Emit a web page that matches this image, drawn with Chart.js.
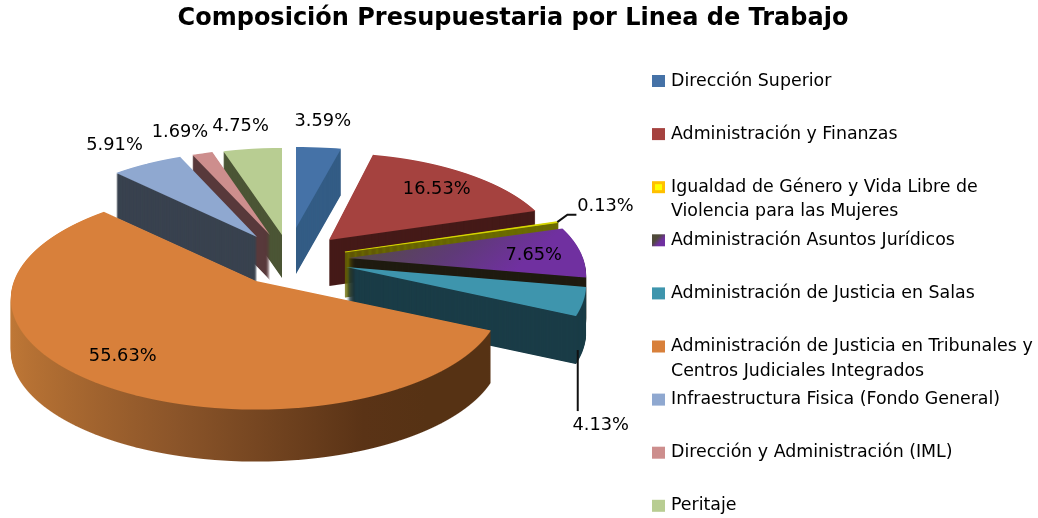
<!DOCTYPE html>
<html><head><meta charset="utf-8">
<style>html,body{margin:0;padding:0;background:#fff}#w{position:relative;width:1038px;height:518px;overflow:hidden}#c{filter:blur(0.45px)}</style>
<script src="https://cdn.jsdelivr.net/npm/chart.js@4"></script>
</head><body><div id="w"><canvas id="c" width="1038" height="518"></canvas></div>
<script>
const titleText = 'Composición Presupuestaria por Linea de Trabajo';
const categories = [
  'Dirección Superior',
  'Administración y Finanzas',
  ['Igualdad de Género y Vida Libre de','Violencia para las Mujeres'],
  'Administración Asuntos Jurídicos',
  'Administración de Justicia en Salas',
  ['Administración de Justicia en Tribunales y','Centros Judiciales Integrados'],
  'Infraestructura Fisica (Fondo General)',
  'Dirección y Administración (IML)',
  'Peritaje'
];
const shares = [3.59, 16.53, 0.13, 7.65, 4.13, 55.63, 5.91, 1.69, 4.75];
const topColors = ['#4572a7','#a5423f','#d6d600','#7030a0','#3e95ad','#d8803b','#8fa8d0','#cd8e8d','#b8cd92'];
const sideColors = ['#335c85','#451a18','#6b6b00','#1f1b10','#1a3c47','#5a3312','#39424f','#58393b','#4b5535'];
// Exploded, tilted 3D look: placement of each slice relative to the pie centre (style only)
const explodeX = [-217,-184,-168,-165,-167,-257,-256,-243,-231];
const explodeY = [-52,-40,-28,-22,-13,1,-43,-45,-45];
const radiusX = [233,227,233,235,237,242,224,226,230];
const radiusY = [94,101,105,105,107,108,100,100,101];
const depth = [46,46,45,45,48,52,45,45,43];
const perspective = 0.16;
const paintOrder = [8,7,6,0,1,2,3,4,5];
const labelRadial = [1.33,0.74,1.23,0.793,1.07,0.8,1.27,1.29,1.24];
const labelNudgeX = [-2,3,2,1,0,-8,-7,-6,-6];
const labelNudgeY = [-4,0,-9,2,121,-3,-1,-1,-5];
const FONT = '"DejaVu Sans"';

const pie3d = {
  id:'pie3d',
  beforeDatasetsDraw(chart){
    const ctx = chart.ctx, arcs = chart.getDatasetMeta(0).data, k = perspective;
    const project = (i, f, a) => {
      const u = f*Math.cos(a), v = f*Math.sin(a), w = 1-k*v;
      return {x: radiusX[i]*u/w, y: radiusY[i]*v/w};
    };
    const place = i => {
      const el = arcs[i];
      const tx = Math.round(el.x+explodeX[i]), ty = Math.round(el.y+explodeY[i]);
      let lo = 0, hi = 0;
      for (let s = 0; s <= 60; s++) {
        const y = project(i, 1, el.startAngle + (el.endAngle-el.startAngle)*s/60).y;
        lo = Math.min(lo,y); hi = Math.max(hi,y);
      }
      return {el, i, tx, ty, lo: Math.floor(lo)-3, hi: Math.ceil(hi)+3, R: el.outerRadius};
    };
    // draw one copy of the library's arc through the perspective, row by row
    const drawArc = (p, dy, fill, line) => {
      const el = p.el, saved = el.options, o = Object.create(saved);
      o.backgroundColor = fill;
      o.borderWidth = line ? 2 : 0; o.borderColor = fill;
      el.options = o;
      const rx = radiusX[p.i], ry = radiusY[p.i];
      for (let r = p.lo; r <= p.hi; r++) {
        const yc = r+0.5, v = yc/(ry+k*yc), w = 1-k*v, Y = p.ty+dy+r;
        ctx.save();
        ctx.beginPath(); ctx.rect(0, Y, chart.width, 1); ctx.clip();
        ctx.translate(p.tx, Y+0.5);
        ctx.scale(rx/p.R/w, ry/p.R/(w*w));
        ctx.translate(-el.x, -(el.y+v*p.R));
        el.draw(ctx);
        ctx.restore();
      }
      el.options = saved;
    };
    const srcGrad = (p, x0, y0, x1, y1, stops) => {
      const sx = rxv => p.el.x + rxv*p.R/radiusX[p.i], sy = ryv => p.el.y + ryv*p.R/radiusY[p.i];
      const g = ctx.createLinearGradient(sx(x0), sy(y0), sx(x1), sy(y1));
      stops.forEach(s => g.addColorStop(s[0], s[1]));
      return g;
    };
    paintOrder.forEach(i => {
      const p = place(i);
      let side = sideColors[i], top = topColors[i];
      if (i === 5) side = srcGrad(p, -240, 0, 150, 0, [[0,'#c07836'],[0.45,'#8a5429'],[0.85,'#5a3316'],[1,'#563214']]);
      if (i === 3) top = srcGrad(p, 20, -25, 185, 22, [[0,'#544c42'],[0.5,'#5f3a78'],[0.85,'#7030a0'],[1,'#7030a0']]);
      const thin = i === 2;
      for (let d = depth[i]; d >= 1; d--) drawArc(p, d, side, thin);
      drawArc(p, 0, top, thin);
    });
    // labels and leader lines
    ctx.save();
    ctx.fillStyle = '#000'; ctx.strokeStyle = '#111';
    ctx.textAlign = 'center'; ctx.textBaseline = 'middle';
    ctx.font = '17.8px '+FONT;
    arcs.forEach((el,i) => {
      const p = place(i), a = (el.startAngle+el.endAngle)/2, q = project(i, labelRadial[i], a);
      const lx = p.tx + q.x + labelNudgeX[i], ly = p.ty + q.y + labelNudgeY[i];
      ctx.fillText(shares[i].toFixed(2)+'%', lx, ly);
      if (i === 2) {
        const e = project(i, 1, a);
        ctx.lineWidth = 2; ctx.beginPath();
        ctx.moveTo(p.tx+e.x, p.ty+e.y);
        ctx.lineTo(lx-38, ly+8); ctx.lineTo(lx-29, ly+8); ctx.stroke();
      }
      if (i === 4) {
        ctx.lineWidth = 2; ctx.beginPath();
        ctx.moveTo(lx-23, ly-75); ctx.lineTo(lx-23, ly-14); ctx.stroke();
      }
    });
    ctx.restore();
    return false;
  },
  afterDraw(chart){
    const ctx = chart.ctx;
    const x0 = 652, y0 = 81, pitch = 53.1, box = 13, lineGap = 24.5;
    ctx.save();
    ctx.textBaseline = 'middle'; ctx.textAlign = 'left';
    ctx.font = '17.4px '+FONT;
    chart.data.labels.forEach((lab,i) => {
      const y = y0 + i*pitch;
      if (i === 2) {
        ctx.fillStyle = '#ffc000'; ctx.fillRect(x0, y-6, box, box-1);
        ctx.fillStyle = '#ffff00'; ctx.fillRect(x0+3, y-3, box-6, box-7);
      } else if (i === 3) {
        const g = ctx.createLinearGradient(x0, y-6, x0+box, y+6);
        g.addColorStop(0.35,'#4f4a3a'); g.addColorStop(0.65,'#7030a0');
        ctx.fillStyle = g; ctx.fillRect(x0, y-6, box, box-1);
      } else {
        ctx.fillStyle = topColors[i]; ctx.fillRect(x0, y-6, box, box-1);
      }
      ctx.fillStyle = '#000';
      const lines = Array.isArray(lab) ? lab : [lab];
      lines.forEach((t,k) => ctx.fillText(t, 671, y + k*lineGap));
    });
    ctx.restore();
  }
};

new Chart(document.getElementById('c'), {
  type:'pie',
  data:{labels:categories, datasets:[{data:shares, backgroundColor:topColors, borderWidth:0}]},
  options:{
    responsive:false, animation:false,
    layout:{padding:{right:12}},
    plugins:{
      legend:{display:false}, tooltip:{enabled:false},
      title:{display:true, text:titleText, color:'#000', font:{family:FONT, size:24, weight:'bold'}, padding:{top:4,bottom:9.2}}
    }
  },
  plugins:[pie3d]
});
</script></body></html>
